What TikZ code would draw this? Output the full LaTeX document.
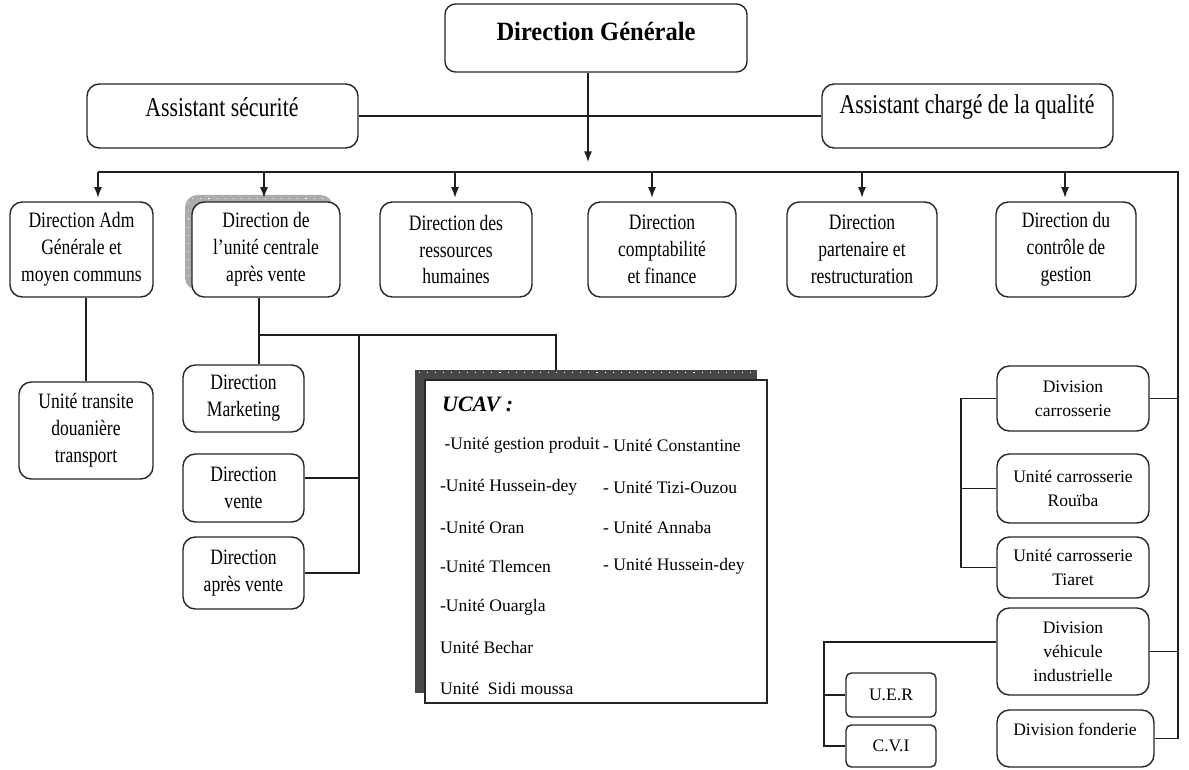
\documentclass[tikz,border=0pt]{standalone}
\usepackage{fontspec}
\setmainfont{Liberation Serif}
\newfontfamily\condfont{Liberation Serif}[FakeStretch=0.8]
\newfontfamily\headfont{Liberation Serif}[FakeStretch=0.93]
\usetikzlibrary{arrows.meta,calc}
\newcommand{\rowfont}{\condfont\fontsize{12.5}{15.3}\selectfont}
\newcommand{\asstfont}{\condfont\fontsize{15.5}{18}\selectfont}
\newcommand{\unitfont}{\fontsize{10}{13.6}\selectfont}
% box from corner (x1,y1) to (x2,y2): name, x1, y1, x2, y2, style, text
\newcommand{\orgbox}[7]{%
  \node[#6,minimum width={(#4-#2)*0.02cm},minimum height={(#5-#3)*0.02cm}]
    (#1) at ({(#2+#4)/2},{(#3+#5)/2}) {#7};}
\begin{document}
\begin{tikzpicture}[x=0.02cm,y=-0.02cm,
  ln/.style={draw=black!88,line width=0.75pt},
  arr/.style={ln,-{Latex[length=6pt,width=4.5pt]}},
  rbox/.style={draw=black!85,line width=0.8pt,rounded corners=7pt,fill=white,
               inner sep=1pt,align=center},
  sbox/.style={rbox,rounded corners=3pt},
  rowbox/.style={rbox,font=\rowfont},
  unitbox/.style={rbox,font=\unitfont},
  dots/.style={white,line width=0.7pt,dash pattern=on 0.6pt off 4pt}]
\useasboundingbox (0,0) rectangle (1189,770);

% top level
\orgbox{dg}{445}{4}{747}{72}{rbox,rounded corners=6pt}{}
\node[font=\headfont\bfseries\fontsize{15}{18}\selectfont] (dgt) at (596,31) {Direction Générale};
\orgbox{as}{87}{84}{358}{148}{rbox}{}
\node[font=\asstfont] (ast) at (222,107) {Assistant sécurité};
\orgbox{aq}{822}{84}{1113}{148}{rbox}{}
\node[font=\asstfont] (aqt) at (967,107) {Assistant chargé de la qualité};

% directions
\orgbox{adm}{10}{202}{153}{297}{rowbox}{Direction Adm\\Générale et\\moyen communs}
\orgbox{ucsh}{185}{195}{333}{290}{rbox,draw=none,fill=black!33}{}
\draw[dots] (ucsh.north west) ++(8,4) -- ++(136,0);
\draw[dots] (ucsh.north west) ++(4,8) -- ++(0,80);
\orgbox{uc}{192}{202}{340}{297}{rowbox}{Direction de\\l’unité centrale\\après vente}
\orgbox{rh}{380}{202}{532}{297}{rowbox}{Direction des\\ressources\\humaines}
\orgbox{cf}{588}{202}{736}{297}{rowbox}{Direction\\comptabilité\\et finance}
\orgbox{pr}{787}{202}{937}{297}{rowbox}{Direction\\partenaire et\\restructuration}
\orgbox{cg}{996}{202}{1136}{297}{rowbox}{Direction du\\contrôle de\\gestion}

% left branches
\orgbox{ut}{19}{382}{153}{479}{rowbox}{Unité transite\\douanière\\transport}
\orgbox{mkt}{183}{365}{304}{432}{rowbox}{Direction\\Marketing}
\orgbox{dv}{183}{454}{304}{522}{rowbox}{Direction\\vente}
\orgbox{dav}{183}{537}{304}{609}{rowbox}{Direction\\après vente}

% UCAV panel
\orgbox{ucavsh}{415}{370}{757}{693}{draw=none,fill=black!72,inner sep=0pt}{}
\draw[dots] (ucavsh.north west) ++(4,3) -- ++(334,0);
\orgbox{ucav}{425}{380}{767}{703}{draw=black!85,line width=0.8pt,fill=white,inner sep=0pt}{}
\node[anchor=west,font=\bfseries\itshape\fontsize{12.5}{15}\selectfont] (ucavt) at (436,404) {UCAV :};
\begin{scope}[every node/.style={anchor=west,font=\fontsize{10}{12}\selectfont,inner sep=1pt}]
\node (u1) at (438,445) {\ -Unité gestion produit};
\node (u2) at (438,487) {-Unité Hussein-dey};
\node (u3) at (438,527) {-Unité Oran};
\node (u4) at (438,566) {-Unité Tlemcen};
\node (u5) at (438,607) {-Unité Ouargla};
\node (u6) at (438,647) {Unité Bechar};
\node (u7) at (438,688) {Unité\ \ Sidi moussa};
\node (v1) at (601,445) {- Unité Constantine};
\node (v2) at (601,487) {- Unité Tizi-Ouzou};
\node (v3) at (601,527) {- Unité Annaba};
\node (v4) at (601,566) {- Unité Hussein-dey};
\end{scope}

% right branches
\orgbox{dcar}{997}{366}{1149}{431}{unitbox}{Division\\carrosserie}
\orgbox{ucr}{997}{454}{1149}{523}{unitbox}{Unité carrosserie\\Rouïba}
\orgbox{uct}{997}{537}{1149}{598}{unitbox}{Unité carrosserie\\Tiaret}
\orgbox{dvi}{997}{608}{1149}{695}{unitbox}{Division\\véhicule\\industrielle}
\orgbox{uer}{846}{673}{936}{717}{unitbox,sbox}{U.E.R}
\orgbox{cvi}{846}{725}{936}{767}{unitbox,sbox}{C.V.I}
\orgbox{dfo}{997}{710}{1154}{767}{rbox}{}
\node[font=\unitfont] (dfot) at (1075,729) {Division fonderie};

% connectors: top
\draw[ln] (as.east) -- (aq.west);
\coordinate (hub) at (588,162);
\draw[arr] (dg.south -| hub) -- (hub);
\coordinate (busL) at (98,172);
\coordinate (busR) at (1178,172);
\draw[ln] (busL) -- (busR) -- (busR |- dfo.east) -- (dfo.east);
\foreach \px/\tgt in {98/adm,264/uc,455/rh,652/cf,862/pr,1065/cg}{
  \coordinate (drop) at (\px,172);
  \draw[arr,shorten >=2pt] (drop) -- (drop |- \tgt.north);
}

% connectors: left
\draw[ln] (ut.north) -- (ut.north |- adm.south);
\coordinate (t1) at (259,335);
\coordinate (t2) at (359,335);
\coordinate (t3) at (556,335);
\coordinate (tv) at (359,478);
\draw[ln] (t1 |- uc.south) -- (t1) -- (t1 |- mkt.north);
\draw[ln] (t1) -- (t3) -- (t3 |- ucavsh.north);
\draw[ln] (t2) -- (t2 |- dav.east) -- (dav.east);
\draw[ln] (tv -| dv.east) -- (tv);

% connectors: right
\draw[ln] (dcar.east) -- (dcar.east -| busR);
\draw[ln] (dvi.east) -- (dvi.east -| busR);
\coordinate (cL) at (961,398);
\draw[ln] (dcar.west) -- (dcar.west -| cL) -- (cL |- uct.west) -- (uct.west);
\draw[ln] (cL |- ucr.west) -- (ucr.west);
\coordinate (vL) at (824,642);
\draw[ln] (vL -| dvi.west) -- (vL) -- (vL |- cvi.west) -- (cvi.west);
\draw[ln] (vL |- uer.west) -- (uer.west);
\end{tikzpicture}
\end{document}
